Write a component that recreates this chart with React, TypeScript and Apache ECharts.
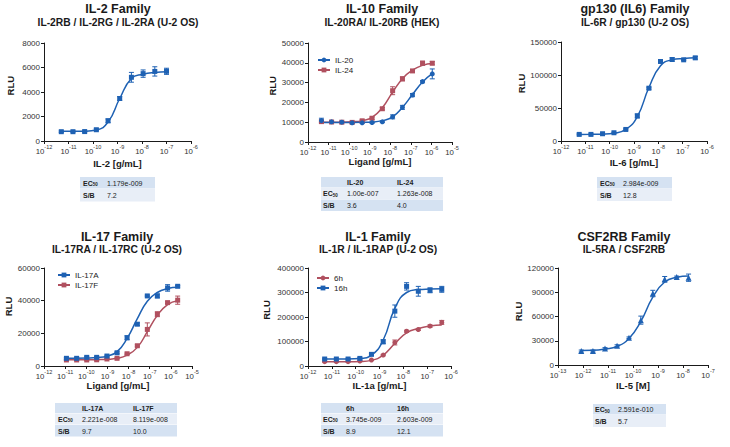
import React, { useEffect, useRef } from "react";
import * as echarts from "echarts";

// ---------------- DATA ----------------
// Panel 1: IL-2 family
const IL2_X = [5.08e-12, 1.52e-11, 4.57e-11, 1.37e-10, 4.12e-10, 1.23e-9, 3.7e-9, 1.11e-8, 3.33e-8, 1e-7];
const IL2_Y = [760, 760, 770, 920, 1650, 3470, 5200, 5500, 5680, 5690];
const IL2_ERR = [60, 50, 60, 80, 150, 150, 400, 300, 380, 250];
const IL2_FIT = [790, 790, 800, 900, 1550, 3470, 5100, 5450, 5600, 5650];

// Panel 2: IL-10 family
const IL10_X = [4.5e-12, 1.4e-11, 4.4e-11, 1.4e-10, 4.3e-10, 1.3e-9, 4.1e-9, 1.3e-8, 3.9e-8, 1.2e-7, 3.7e-7, 1.1e-6];
const IL20_Y = [10800, 10200, 10000, 9700, 9700, 9800, 10200, 12700, 17500, 23700, 30500, 34400];
const IL20_ERR = [1200, 400, 300, 300, 300, 300, 400, 1000, 1000, 800, 600, 2500];
const IL20_FIT = [9900, 9900, 9900, 9900, 9950, 10100, 10800, 12700, 17500, 24000, 30300, 34500];
const IL24_Y = [10300, 10100, 10000, 9900, 10700, 12000, 16800, 25900, 31900, 35900, 39800, 39800];
const IL24_ERR = [300, 300, 300, 300, 500, 600, 600, 2000, 1000, 600, 1000, 800];
const IL24_FIT = [10000, 10000, 10000, 10200, 10800, 12400, 17300, 25200, 32000, 36300, 38700, 39600];

// Panel 3: gp130 (IL6) family
const IL6_X = [5.6e-12, 1.7e-11, 5.1e-11, 1.5e-10, 4.6e-10, 1.37e-9, 4.1e-9, 1.23e-8, 3.7e-8, 1.1e-7, 3.3e-7];
const IL6_Y = [10000, 10000, 11000, 12500, 17500, 38000, 80000, 120500, 123500, 123000, 126000];
const IL6_ERR = [800, 800, 800, 800, 1000, 3000, 1500, 1500, 2500, 1000, 2000];
const IL6_FIT = [10000, 10100, 10400, 11800, 17500, 37000, 81000, 114000, 123000, 125000, 126000];

// Panel 4: IL-17 family
const IL17_X = [1.15e-11, 3.5e-11, 1.05e-10, 3.1e-10, 9.5e-10, 2.85e-9, 8.5e-9, 2.6e-8, 7.7e-8, 2.3e-7, 7e-7, 2.1e-6];
const IL17A_Y = [4700, 4700, 5300, 5300, 6100, 8100, 17300, 25600, 42900, 42900, 47800, 48800];
const IL17A_ERR = [500, 500, 600, 500, 500, 600, 1200, 800, 500, 1200, 2000, 500];
const IL17A_FIT = [4800, 4800, 4900, 5200, 6000, 8800, 16900, 29000, 39600, 45000, 47400, 48200];
const IL17F_Y = [3700, 3700, 3700, 3800, 4300, 4700, 7500, 12400, 22400, 31700, 38800, 40300];
const IL17F_ERR = [300, 300, 300, 300, 300, 300, 400, 600, 4000, 1500, 500, 2500];
const IL17F_FIT = [3800, 3800, 3800, 3900, 4100, 4700, 6700, 11400, 21000, 31000, 37600, 40000];

// Panel 5: IL-1 family
const IL1_X = [5e-12, 1.55e-11, 4.8e-11, 1.5e-10, 4.6e-10, 1.43e-9, 4.4e-9, 1.37e-8, 4.25e-8, 1.32e-7, 4.1e-7];
const IL1_6H_Y = [17600, 17600, 17600, 20300, 24400, 44700, 96000, 142000, 149000, 163000, 178000];
const IL1_6H_ERR = [2000, 2000, 2000, 2000, 2000, 3000, 10000, 4000, 4000, 5000, 8000];
const IL1_6H_FIT = [17500, 17500, 17600, 18500, 23000, 44700, 92000, 135000, 153000, 163000, 167000];
const IL1_16H_Y = [28500, 28500, 28500, 31000, 47500, 99000, 224000, 325000, 305000, 309000, 313000];
const IL1_16H_ERR = [3000, 3000, 3000, 3000, 4000, 8000, 25000, 15000, 20000, 10000, 12000];
const IL1_16H_FIT = [29000, 29000, 29000, 30500, 44000, 106000, 235000, 300000, 312000, 314000, 315000];

// Panel 6: CSF2RB family
const IL5_X = [8.5e-13, 2.5e-12, 7.6e-12, 2.3e-11, 6.9e-11, 2.06e-10, 6.2e-10, 1.85e-9, 5.6e-9, 1.67e-8];
const IL5_Y = [17300, 17300, 20500, 23800, 33700, 55500, 88400, 106000, 109000, 108000];
const IL5_ERR = [1200, 1200, 1000, 1200, 1000, 5000, 4000, 3500, 1000, 4500];
const IL5_FIT = [18000, 18200, 19700, 23000, 32900, 54000, 84000, 102700, 108500, 110000];

// Titles
const TITLES = ["IL-2 Family", "IL-10 Family", "gp130 (IL6) Family", "IL-17 Family", "IL-1 Family", "CSF2RB Family"];
const SUBTITLES = ["IL-2RB / IL-2RG / IL-2RA (U-2 OS)", "IL-20RA/ IL-20RB (HEK)", "IL-6R / gp130 (U-2 OS)", "IL-17RA / IL-17RC (U-2 OS)", "IL-1R / IL-1RAP (U-2 OS)", "IL-5RA / CSF2RB"];
const X_NAMES = ["IL-2 [g/mL]", "Ligand [g/mL]", "IL-6 [g/mL]", "Ligand [g/mL]", "IL-1a [g/mL]", "IL-5 [M]"];
const X_MIN = [1e-12, 1e-12, 1e-12, 1e-12, 1e-12, 1e-13];
const X_MAX = [1e-6, 1e-5, 1e-6, 1e-5, 1e-6, 1e-7];
const Y_MAX = [8000, 50000, 150000, 60000, 400000, 120000];
const Y_STEP = [2000, 10000, 50000, 20000, 100000, 30000];

// Tables
const TABLE1 = [["EC50", "1.179e-009"], ["S/B", "7.2"]];
const TABLE2 = [["", "IL-20", "IL-24"], ["EC50", "1.00e-007", "1.263e-008"], ["S/B", "3.6", "4.0"]];
const TABLE3 = [["EC50", "2.984e-009"], ["S/B", "12.8"]];
const TABLE4 = [["", "IL-17A", "IL-17F"], ["EC50", "2.221e-008", "8.119e-008"], ["S/B", "9.7", "10.0"]];
const TABLE5 = [["", "6h", "16h"], ["EC50", "3.745e-009", "2.603e-009"], ["S/B", "8.9", "12.1"]];
const TABLE6 = [["EC50", "2.591e-010"], ["S/B", "5.7"]];

// ---------------- STYLE / LAYOUT ----------------
const BLUE = "#1e61b3";
const RED = "#b0505f";
const FONT = "'Liberation Sans', Arial, Helvetica, sans-serif";
const INK = "#1a1a1a";

const GRIDS = [
  { left: 44, top: 43, width: 147, height: 98 },
  { left: 308, top: 43, width: 144, height: 99 },
  { left: 561, top: 42, width: 146, height: 99 },
  { left: 44, top: 268, width: 148, height: 98 },
  { left: 308, top: 268, width: 143, height: 98 },
  { left: 558, top: 268, width: 150, height: 97 },
];
const TITLE_POS = [
  [118, 9, 22.7], [382, 9, 22.7], [635, 9, 22.7],
  [117, 236.7, 249.3], [378, 236.7, 249.3], [624, 236.7, 249.3],
];
const X_NAME_GAP = [17, 14.5, 16, 13.5, 14, 15];
const Y_NAME_GAP = [28.5, 30.5, 28.5, 28.5, 37, 28];
const Y_NAME_SHIFT = [12.6, 13.4, 16, 21, 14, 10];

const TABLE_LAYOUT = [
  { t: TABLE1, x: 80, y: 177, w: 75, rows: [12, 13], cols: [83, 107] },
  { t: TABLE2, x: 321, y: 177, w: 122, rows: [11, 11.5, 12], cols: [323, 347, 397] },
  { t: TABLE3, x: 597, y: 177, w: 75, rows: [12, 12.5], cols: [600, 623] },
  { t: TABLE4, x: 55, y: 403, w: 122, rows: [10.5, 11.5, 12], cols: [58, 82, 133] },
  { t: TABLE5, x: 321, y: 403, w: 122, rows: [10.5, 11.5, 12], cols: [323, 346, 397] },
  { t: TABLE6, x: 593, y: 404, w: 73, rows: [11, 12.5], cols: [595, 618] },
];
const ROW_COLORS = ["#d5e2f2", "#e8eef7", "#d5e2f2"];

function xAxis(i: number) {
  return {
    type: "log", logBase: 10, gridIndex: i, min: X_MIN[i], max: X_MAX[i],
    name: X_NAMES[i], nameLocation: "middle", nameGap: X_NAME_GAP[i],
    nameTextStyle: { fontFamily: FONT, fontWeight: "bold", fontSize: 9.5, color: INK },
    axisLine: { show: true, lineStyle: { color: INK, width: 1 } },
    axisTick: { show: true, length: 3, lineStyle: { color: INK } },
    minorTick: { show: false }, splitLine: { show: false },
    axisLabel: {
      margin: 3,
      formatter: (v: number) => `{b|10}{s|${Math.round(Math.log10(v))}}`,
      rich: {
        b: { fontSize: 7.8, fontFamily: FONT, color: "#333", lineHeight: 11, verticalAlign: "bottom" },
        s: { fontSize: 5.5, fontFamily: FONT, color: "#333", lineHeight: 6, verticalAlign: "top" },
      },
    },
  };
}
function yAxis(i: number) {
  return {
    type: "value", gridIndex: i, min: 0, max: Y_MAX[i], interval: Y_STEP[i],
    name: "RLU", nameLocation: "middle", nameRotate: 90, nameGap: Y_NAME_GAP[i],
    nameTextStyle: { fontFamily: FONT, fontWeight: "bold", fontSize: 9.5, color: INK, padding: [0, 0, 0, Y_NAME_SHIFT[i]] },
    axisLine: { show: true, lineStyle: { color: INK, width: 1 } },
    axisTick: { show: true, length: 3, lineStyle: { color: INK } },
    splitLine: { show: false },
    axisLabel: { fontSize: 8, fontFamily: FONT, color: "#333", margin: 4, formatter: (v: number) => String(v) },
  };
}

function curve(name: string, i: number, xs: number[], fit: number[], color: string, symbol: string) {
  return {
    type: "line", name, xAxisIndex: i, yAxisIndex: i, smooth: 0.5, symbol, symbolSize: 5, showSymbol: false,
    data: xs.map((x, k) => [x, fit[k]]), lineStyle: { color, width: 1.5 }, itemStyle: { color }, silent: true, z: 2,
  };
}
function points(name: string, i: number, xs: number[], ys: number[], color: string, symbol: string, size = 5) {
  return {
    type: "scatter", name: name + " data", xAxisIndex: i, yAxisIndex: i, symbol, symbolSize: size,
    data: xs.map((x, k) => [x, ys[k]]), itemStyle: { color, opacity: 1 }, silent: true, z: 4,
  };
}
function errs(name: string, i: number, xs: number[], ys: number[], es: number[], color: string) {
  return {
    type: "custom", name: name + " err", xAxisIndex: i, yAxisIndex: i, silent: true, z: 3,
    data: xs.map((x, k) => [x, ys[k] - es[k], ys[k] + es[k]]),
    encode: { x: 0, y: [1, 2] },
    renderItem: (_p: any, api: any) => {
      const x = api.value(0);
      const a = api.coord([x, api.value(2)]);
      const b = api.coord([x, api.value(1)]);
      const w = 2.5;
      const st = { stroke: color, lineWidth: 1 };
      return {
        type: "group",
        children: [
          { type: "line", shape: { x1: a[0], y1: a[1], x2: b[0], y2: b[1] }, style: st },
          { type: "line", shape: { x1: a[0] - w, y1: a[1], x2: a[0] + w, y2: a[1] }, style: st },
          { type: "line", shape: { x1: b[0] - w, y1: b[1], x2: b[0] + w, y2: b[1] }, style: st },
        ],
      };
    },
  };
}

function txt(text: string, x: number, y: number, size: number, bold: boolean, align = "left", rich?: any, fill = INK) {
  return {
    type: "text", x, y, silent: true, z: 10,
    style: {
      text, fontSize: size, fontFamily: FONT, fontWeight: bold ? "bold" : "normal", fill,
      align, verticalAlign: "middle", textAlign: align, textVerticalAlign: "middle", rich,
    },
  };
}

function tableGraphics() {
  const out: any[] = [];
  const rich = {
    m: { fontSize: 7, fontFamily: FONT, fontWeight: "bold", fill: "#222", color: "#222" },
    u: { fontSize: 4.5, fontFamily: FONT, fontWeight: "bold", fill: "#222", color: "#222", verticalAlign: "bottom", padding: [3, 0, 0, 0] },
  };
  TABLE_LAYOUT.forEach((tb) => {
    let y = tb.y;
    tb.t.forEach((row, r) => {
      const h = tb.rows[r];
      out.push({ type: "rect", silent: true, z: 5, shape: { x: tb.x, y, width: tb.w, height: h - 0.5 }, style: { fill: ROW_COLORS[r] } });
      const header = tb.t.length === 3 && r === 0;
      row.forEach((cell, c) => {
        if (!cell) return;
        const bold = c === 0 || header;
        if (cell === "EC50") {
          out.push(txt("{m|EC}{u|50}", tb.cols[c], y + h / 2, 7, true, "left", rich, "#222"));
        } else {
          out.push(txt(cell, tb.cols[c], y + h / 2, 7, bold, "left", undefined, "#222"));
        }
      });
      y += h;
    });
  });
  return out;
}

function buildOption() {
  const graphics: any[] = [];
  TITLE_POS.forEach((p, i) => {
    graphics.push(txt(TITLES[i], p[0], p[1], 12.5, true, "center"));
    graphics.push(txt(SUBTITLES[i], p[0], p[2], 10.3, true, "center"));
  });
  graphics.push(...tableGraphics());

  const legendBase = {
    orient: "vertical", itemWidth: 12, itemHeight: 6, itemGap: 2, selectedMode: false,
    textStyle: { fontSize: 8, fontFamily: FONT, color: "#222" },
  };

  return {
    animation: false,
    backgroundColor: "#ffffff",
    grid: GRIDS.map((g) => ({ ...g, containLabel: false })),
    xAxis: [0, 1, 2, 3, 4, 5].map(xAxis),
    yAxis: [0, 1, 2, 3, 4, 5].map(yAxis),
    legend: [
      { ...legendBase, data: ["IL-20", "IL-24"], left: 312, top: 51 },
      { ...legendBase, data: ["IL-17A", "IL-17F"], left: 52, top: 266 },
      { ...legendBase, data: ["6h", "16h"], left: 311, top: 269 },
    ],
    series: [
      errs("IL-2", 0, IL2_X, IL2_Y, IL2_ERR, BLUE),
      curve("IL-2", 0, IL2_X, IL2_FIT, BLUE, "rect"),
      points("IL-2", 0, IL2_X, IL2_Y, BLUE, "rect"),

      errs("IL-24", 1, IL10_X, IL24_Y, IL24_ERR, RED),
      curve("IL-24", 1, IL10_X, IL24_FIT, RED, "rect"),
      points("IL-24", 1, IL10_X, IL24_Y, RED, "rect"),
      errs("IL-20", 1, IL10_X, IL20_Y, IL20_ERR, BLUE),
      curve("IL-20", 1, IL10_X, IL20_FIT, BLUE, "circle"),
      points("IL-20", 1, IL10_X, IL20_Y, BLUE, "circle"),

      errs("IL-6", 2, IL6_X, IL6_Y, IL6_ERR, BLUE),
      curve("IL-6", 2, IL6_X, IL6_FIT, BLUE, "rect"),
      points("IL-6", 2, IL6_X, IL6_Y, BLUE, "rect"),

      errs("IL-17F", 3, IL17_X, IL17F_Y, IL17F_ERR, RED),
      curve("IL-17F", 3, IL17_X, IL17F_FIT, RED, "rect"),
      points("IL-17F", 3, IL17_X, IL17F_Y, RED, "rect"),
      errs("IL-17A", 3, IL17_X, IL17A_Y, IL17A_ERR, BLUE),
      curve("IL-17A", 3, IL17_X, IL17A_FIT, BLUE, "rect"),
      points("IL-17A", 3, IL17_X, IL17A_Y, BLUE, "rect"),

      errs("6h", 4, IL1_X, IL1_6H_Y, IL1_6H_ERR, RED),
      curve("6h", 4, IL1_X, IL1_6H_FIT, RED, "circle"),
      points("6h", 4, IL1_X, IL1_6H_Y, RED, "circle"),
      errs("16h", 4, IL1_X, IL1_16H_Y, IL1_16H_ERR, BLUE),
      curve("16h", 4, IL1_X, IL1_16H_FIT, BLUE, "rect"),
      points("16h", 4, IL1_X, IL1_16H_Y, BLUE, "rect"),

      errs("IL-5", 5, IL5_X, IL5_Y, IL5_ERR, BLUE),
      curve("IL-5", 5, IL5_X, IL5_FIT, BLUE, "triangle"),
      points("IL-5", 5, IL5_X, IL5_Y, BLUE, "triangle", 6),
    ],
    graphic: graphics,
  };
}

export default function App() {
  const ref = useRef<HTMLDivElement>(null);
  useEffect(() => {
    const chart = echarts.init(ref.current!, null, { renderer: "svg" });
    chart.setOption(buildOption() as any);
    return () => chart.dispose();
  }, []);
  return (
    <div
      ref={ref}
      style={{ position: "absolute", left: 0, top: 0, width: 730, height: 447, background: "#fff" }}
    />
  );
}
